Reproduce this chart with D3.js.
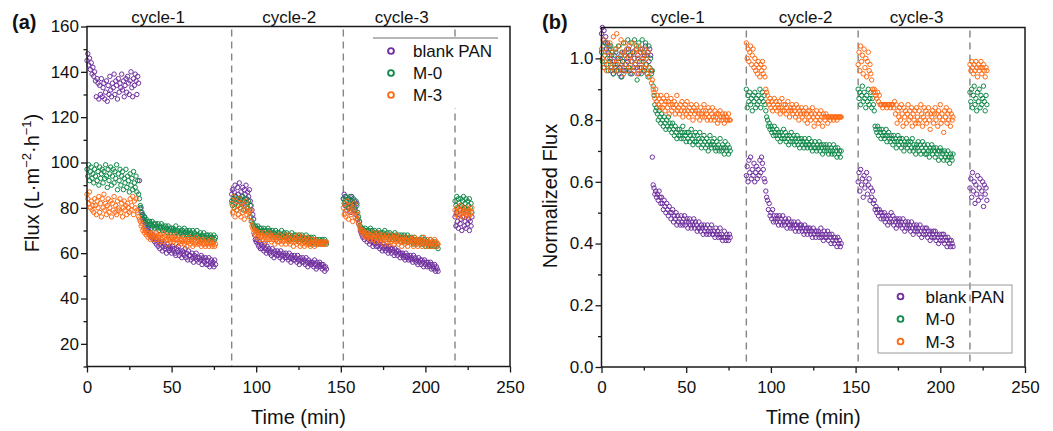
<!DOCTYPE html>
<html>
<head>
<meta charset="utf-8">
<script src="https://cdn.jsdelivr.net/npm/d3@7/dist/d3.min.js"></script>
<style>
  body { margin: 0; background: #fff; }
  svg { display: block; }
</style>
</head>
<body>
<svg id="chart" width="1053" height="431"></svg>
<script>
var seriesNames = ['blank PAN', 'M-0', 'M-3'];
var seriesColors = ['#7030a0', '#11894a', '#ff6a14'];
var cycleLabels = ['cycle-1', 'cycle-2', 'cycle-3'];
var cycleLabelTimeA = [42, 119.5, 186];
var cycleLabelTimeB = [45, 120.5, 186];
var dividerTimes = [85.5, 151.5, 217.5];
var xMajorTicks = [0, 50, 100, 150, 200, 250];
var xMinorTicks = [25, 75, 125, 175, 225];
var fluxMajorTicks = [20, 40, 60, 80, 100, 120, 140, 160];
var fluxMinorTicks = [10, 30, 50, 70, 90, 110, 130, 150];
var normMajorTicks = [0, 0.2, 0.4, 0.6, 0.8, 1.0];
var normMinorTicks = [0.1, 0.3, 0.5, 0.7, 0.9];

// each cycle starts at the dashed line, one reading every 0.5 min
var cycleStart = [0, 85.5, 151.5, 217.5];
var step = 0.5;

// (a) flux, L m-2 h-1
var fluxBlank1 = [145,148,143,146,141,144,139,142,138,140,136,129,137,135,128,134,130,137,129,133,135,128,131,136,127,134,130,138,132,129,135,133,139,130,136,134,128,137,131,135,133,139,132,136,129,134,137,131,138,135,130,136,140,133,129,137,134,139,136,130,138,135,
  92,80,78,77,75,74,76,72,73,71,70,71,68,69,67,68,66,67,65,66,64,66,63,65,62,64,65,61,63,64,62,63,60,64,62,61,63,62,60,63,61,62,60,59,62,61,63,59,61,60,58,61,60,59,62,58,60,57,61,59,59,57,60,58,56,59,58,60,57,58,56,58,57,59,55,58,57,56,58,55,57,55,58,54,56,57,55,56,54,57,55];
var fluxBlank2 = [86,88,84,87,90,85,83,89,86,91,84,87,85,89,82,88,86,90,84,87,85,88,83,81,79,
  77,75,68,66,65,66,64,63,65,62,64,62,63,61,64,62,60,63,61,62,60,61,59,62,60,58,61,60,59,61,59,60,58,61,59,57,60,59,58,60,58,59,57,60,58,56,59,58,57,59,57,58,56,59,57,55,58,57,56,58,56,57,55,58,56,54,57,56,55,56,55,56,54,57,55,53,56,54,55,56,54,55,53,55,54,52,54,53];
var fluxBlank3 = [84,86,81,85,79,83,80,84,82,78,85,81,79,83,80,77,82,75,73,74,
  70,69,68,67,69,66,68,67,65,67,66,64,67,65,66,63,65,64,66,63,65,63,64,62,65,63,61,64,62,63,61,63,62,60,63,61,62,60,62,61,59,62,60,61,59,61,60,58,60,59,60,58,59,57,60,58,59,57,58,59,57,58,56,59,57,58,56,57,55,58,56,57,55,57,56,54,57,55,56,54,56,55,54,56,53,55,54,53,55,52,54,53,52];
var fluxBlank4 = [76,72,78,74,71,77,73,75,70,76,79,72,74,71,77,73,75,70,74,72,76];

var fluxM0_1 = [97,94,99,92,96,98,93,95,91,97,94,99,92,96,90,98,93,95,97,91,96,93,99,94,89,97,92,95,98,90,94,97,91,96,93,99,88,95,92,97,90,94,96,88,93,91,97,89,94,92,87,95,90,93,88,96,91,89,94,87,92,86,
  84,81,80,78,77,75,76,74,75,73,74,72,74,73,71,74,72,73,71,73,72,71,73,70,72,71,73,70,72,71,70,72,71,69,72,70,71,69,71,70,71,69,70,72,69,70,68,71,69,70,69,70,68,71,69,68,70,69,67,70,68,69,67,70,68,69,67,68,70,67,68,67,69,66,68,67,69,67,66,68,67,68,66,67,68,66,67,65,68,66,67];
var fluxM0_2 = [83,81,84,80,85,82,79,84,81,83,80,84,82,85,79,83,81,84,80,82,83,79,81,76,74,
  73,72,71,72,70,71,72,70,71,69,71,70,69,71,70,68,70,69,71,69,70,68,69,70,68,69,67,70,68,69,68,69,67,68,70,67,68,69,67,68,69,67,68,66,68,67,69,67,66,68,67,68,66,67,65,68,66,67,68,66,67,65,66,68,66,65,67,66,64,67,66,65,67,64,66,65,66,64,65,66,65,64,66,65,64,66,65,64];
var fluxM0_3 = [84,82,85,81,83,80,84,82,85,81,83,80,84,82,79,83,81,78,76,74,
  72,71,70,71,69,70,71,69,70,68,70,69,71,68,70,69,68,70,69,67,69,68,70,67,69,68,67,69,68,70,68,67,69,68,66,69,67,68,66,68,67,69,66,68,67,66,68,67,65,68,66,67,68,65,67,66,68,65,67,66,65,67,66,64,67,65,66,64,66,65,66,64,65,67,64,65,66,63,65,64,65,63,64,66,63,65,64,63,65,64,63,64,62];
var fluxM0_4 = [83,81,85,80,84,82,79,84,81,83,85,80,82,84,79,83,81,84,80,82,78];

var fluxM3_1 = [86,84,82,87,80,83,79,81,78,84,81,77,83,80,85,78,82,76,84,80,86,79,82,77,81,84,78,80,83,76,82,79,85,78,81,77,83,80,79,84,78,82,76,80,83,79,81,77,82,80,78,84,79,81,85,77,83,80,84,79,78,76,
  75,74,72,73,70,71,69,70,68,69,67,69,68,66,69,67,68,66,68,67,69,66,68,67,65,68,66,67,69,65,67,68,66,64,67,66,68,65,67,66,65,67,66,68,64,66,67,65,66,64,66,65,67,64,66,65,63,66,65,67,64,66,65,63,66,64,65,67,64,65,66,64,65,63,66,64,65,64,63,66,64,65,63,65,64,66,63,64,65,63,64];
var fluxM3_2 = [82,78,85,80,76,83,79,81,77,84,80,76,82,78,81,75,79,83,77,80,78,76,79,74,72,
  71,69,70,68,70,67,69,68,66,69,67,68,66,69,67,65,68,66,67,69,66,68,65,67,66,68,64,67,66,65,67,65,68,66,64,67,65,66,68,64,66,67,65,68,64,66,65,67,63,66,65,67,64,66,68,65,63,66,64,67,65,63,66,64,67,65,64,66,63,65,64,66,65,63,66,64,65,64,65,64,65,64,65,64,64,65,64,65];
var fluxM3_3 = [80,77,82,76,79,83,75,78,81,77,80,74,79,82,76,78,75,77,73,72,
  71,70,69,70,68,69,68,67,69,68,67,68,66,68,67,69,66,67,68,65,67,69,66,68,65,67,66,68,64,67,66,68,65,67,64,66,68,65,67,66,64,67,65,68,66,64,67,65,66,63,66,65,67,64,66,65,63,67,65,66,64,66,65,63,67,64,66,65,63,66,65,64,66,63,65,67,64,65,63,66,64,65,63,66,64,65,63,64,66,64,65,63,64];
var fluxM3_4 = [79,77,80,78,76,79,81,77,78,80,76,79,78,77,80,78,76,79,77,78,80];

// (b) normalized flux J/J0
var normBlank1 = [1.08,1.10,1.06,1.09,1.05,1.07,1.03,1.05,1.02,1.04,1.00,0.96,1.01,0.99,0.95,0.99,0.97,1.02,0.96,0.98,1.00,0.95,0.97,1.01,0.94,0.99,0.96,1.02,0.98,0.96,1.00,0.99,1.03,0.96,1.01,0.99,0.95,1.02,0.97,1.00,0.98,1.03,0.97,1.01,0.95,0.99,1.02,0.97,1.03,1.00,0.96,1.01,1.04,0.98,0.95,1.02,0.99,1.03,1.01,0.96,0.68,0.59,
  0.58,0.56,0.57,0.55,0.56,0.54,0.57,0.55,0.53,0.55,0.53,0.51,0.54,0.52,0.50,0.53,0.51,0.49,0.52,0.50,0.48,0.50,0.51,0.47,0.49,0.48,0.50,0.46,0.49,0.47,0.48,0.46,0.49,0.47,0.46,0.48,0.49,0.46,0.47,0.48,0.45,0.47,0.48,0.46,0.45,0.47,0.46,0.48,0.45,0.47,0.46,0.44,0.45,0.47,0.45,0.44,0.46,0.45,0.43,0.46,0.44,0.45,0.43,0.46,0.44,0.43,0.45,0.44,0.46,0.43,0.43,0.44,0.42,0.45,0.43,0.44,0.42,0.43,0.45,0.42,0.43,0.41,0.42,0.44,0.42,0.41,0.43,0.42,0.41,0.43,0.42];
var normBlank2 = [0.62,0.65,0.60,0.67,0.63,0.68,0.61,0.64,0.62,0.66,0.60,0.63,0.65,0.61,0.64,0.62,0.67,0.63,0.68,0.66,0.64,0.61,0.60,0.57,0.55,
  0.54,0.51,0.53,0.49,0.50,0.48,0.51,0.47,0.49,0.48,0.47,0.49,0.48,0.46,0.49,0.47,0.48,0.46,0.49,0.47,0.46,0.48,0.47,0.45,0.47,0.48,0.46,0.45,0.47,0.46,0.45,0.47,0.46,0.44,0.46,0.45,0.47,0.44,0.46,0.45,0.46,0.44,0.45,0.43,0.46,0.44,0.45,0.43,0.45,0.44,0.45,0.43,0.44,0.42,0.45,0.43,0.44,0.42,0.44,0.43,0.44,0.42,0.43,0.45,0.42,0.43,0.41,0.44,0.42,0.43,0.42,0.44,0.41,0.43,0.42,0.40,0.43,0.41,0.42,0.40,0.42,0.41,0.39,0.42,0.40,0.41,0.39,0.40];
var normBlank3 = [0.60,0.63,0.57,0.64,0.59,0.61,0.55,0.62,0.58,0.60,0.63,0.56,0.59,0.61,0.54,0.58,0.55,0.57,0.53,0.54,
  0.51,0.52,0.50,0.51,0.49,0.51,0.50,0.48,0.50,0.49,0.48,0.50,0.47,0.49,0.48,0.46,0.49,0.47,0.48,0.50,0.47,0.49,0.46,0.48,0.47,0.45,0.48,0.46,0.47,0.48,0.46,0.47,0.45,0.48,0.46,0.44,0.47,0.45,0.46,0.47,0.45,0.46,0.44,0.47,0.45,0.43,0.46,0.44,0.45,0.46,0.44,0.45,0.43,0.46,0.44,0.42,0.45,0.43,0.44,0.45,0.43,0.45,0.42,0.44,0.43,0.41,0.44,0.42,0.43,0.44,0.42,0.44,0.41,0.43,0.42,0.40,0.43,0.41,0.42,0.43,0.41,0.43,0.40,0.42,0.41,0.39,0.42,0.40,0.41,0.39,0.41,0.40,0.39];
var normBlank4 = [0.58,0.61,0.55,0.63,0.57,0.60,0.53,0.59,0.56,0.62,0.54,0.58,0.61,0.55,0.57,0.60,0.52,0.59,0.56,0.58,0.54];

var normM0_1 = [1.02,0.99,1.04,0.97,1.01,1.05,0.98,1.00,0.96,1.03,0.99,1.04,0.97,1.02,0.95,1.01,0.98,1.03,0.96,1.00,1.04,0.97,1.00,0.94,1.02,0.99,1.05,0.96,1.01,0.98,1.03,1.06,0.97,1.01,0.95,1.05,0.99,1.02,0.96,1.06,0.98,1.04,0.93,1.00,1.05,0.97,1.03,0.95,1.06,0.99,1.02,0.96,1.05,0.98,1.01,0.94,1.04,0.97,1.00,0.95,0.96,0.91,
  0.88,0.85,0.83,0.84,0.82,0.80,0.83,0.81,0.79,0.82,0.80,0.78,0.81,0.79,0.77,0.80,0.78,0.81,0.77,0.79,0.78,0.76,0.79,0.77,0.75,0.78,0.76,0.74,0.77,0.75,0.77,0.75,0.74,0.76,0.78,0.74,0.76,0.75,0.73,0.76,0.74,0.76,0.73,0.75,0.77,0.74,0.72,0.75,0.73,0.76,0.73,0.75,0.72,0.74,0.76,0.73,0.71,0.74,0.72,0.75,0.73,0.71,0.74,0.72,0.70,0.73,0.75,0.72,0.71,0.73,0.72,0.74,0.71,0.70,0.73,0.71,0.72,0.70,0.74,0.71,0.70,0.72,0.71,0.69,0.73,0.71,0.70,0.72,0.69,0.71,0.70];
var normM0_2 = [0.90,0.84,0.88,0.86,0.89,0.85,0.87,0.83,0.88,0.86,0.89,0.84,0.87,0.85,0.88,0.86,0.90,0.84,0.87,0.89,0.86,0.88,0.85,0.83,0.81,
  0.80,0.78,0.79,0.77,0.78,0.76,0.77,0.75,0.78,0.76,0.75,0.77,0.74,0.76,0.75,0.73,0.76,0.74,0.75,0.77,0.74,0.76,0.73,0.75,0.74,0.72,0.75,0.73,0.76,0.74,0.73,0.75,0.72,0.74,0.73,0.75,0.72,0.74,0.71,0.73,0.74,0.72,0.73,0.71,0.74,0.72,0.73,0.71,0.72,0.74,0.72,0.71,0.73,0.70,0.72,0.71,0.73,0.71,0.70,0.72,0.71,0.73,0.70,0.72,0.71,0.69,0.72,0.70,0.71,0.72,0.70,0.71,0.69,0.72,0.70,0.71,0.69,0.70,0.72,0.69,0.71,0.70,0.68,0.71,0.69,0.70,0.68,0.70];
var normM0_3 = [0.90,0.87,0.89,0.85,0.88,0.91,0.86,0.89,0.87,0.84,0.88,0.86,0.90,0.85,0.87,0.89,0.84,0.87,0.85,0.83,
  0.78,0.77,0.76,0.78,0.75,0.77,0.76,0.74,0.77,0.75,0.76,0.74,0.75,0.77,0.73,0.75,0.76,0.74,0.73,0.75,0.74,0.72,0.75,0.73,0.74,0.71,0.73,0.75,0.72,0.74,0.73,0.71,0.74,0.72,0.70,0.73,0.72,0.74,0.71,0.73,0.72,0.70,0.73,0.71,0.74,0.70,0.72,0.71,0.69,0.72,0.71,0.73,0.70,0.72,0.69,0.71,0.73,0.70,0.72,0.69,0.71,0.69,0.72,0.70,0.68,0.71,0.70,0.72,0.69,0.71,0.70,0.68,0.71,0.69,0.70,0.67,0.70,0.71,0.68,0.70,0.69,0.67,0.70,0.68,0.69,0.67,0.70,0.68,0.66,0.69,0.68,0.67,0.69];
var normM0_4 = [0.89,0.86,0.90,0.84,0.88,0.91,0.85,0.87,0.83,0.89,0.86,0.90,0.84,0.88,0.85,0.87,0.91,0.86,0.83,0.88,0.85];

var normM3_1 = [1.03,1.00,0.97,1.06,0.99,1.02,0.96,1.04,0.98,1.01,1.05,0.97,1.02,0.99,1.07,0.96,1.03,0.98,1.08,1.00,0.96,1.04,0.99,1.06,0.97,1.02,0.95,1.01,1.05,0.98,1.03,0.96,1.00,1.04,0.97,1.01,0.99,1.05,0.96,1.02,0.98,1.03,0.95,1.00,1.04,0.97,1.02,0.99,0.96,1.01,0.97,1.03,0.98,1.00,0.95,1.02,0.97,0.94,0.96,0.92,0.93,0.90,
  0.89,0.87,0.90,0.86,0.88,0.85,0.87,0.84,0.88,0.86,0.84,0.87,0.85,0.83,0.86,0.88,0.84,0.86,0.82,0.85,0.87,0.83,0.85,0.84,0.86,0.82,0.85,0.88,0.83,0.84,0.82,0.85,0.83,0.86,0.81,0.84,0.83,0.85,0.82,0.86,0.83,0.81,0.84,0.82,0.85,0.83,0.80,0.84,0.82,0.83,0.85,0.81,0.83,0.82,0.80,0.84,0.82,0.81,0.83,0.85,0.81,0.83,0.82,0.80,0.84,0.81,0.83,0.80,0.82,0.84,0.81,0.80,0.83,0.81,0.82,0.79,0.82,0.80,0.83,0.81,0.80,0.82,0.81,0.79,0.82,0.80,0.81,0.80,0.82,0.80,0.80];
var normM3_2 = [1.05,1.00,1.03,0.99,1.02,1.04,0.98,1.01,1.03,0.97,1.00,0.96,0.98,0.95,0.99,0.97,0.94,0.98,0.96,0.99,0.95,0.97,0.94,0.90,0.89,
  0.88,0.86,0.85,0.87,0.84,0.86,0.83,0.85,0.87,0.84,0.86,0.83,0.85,0.84,0.86,0.82,0.84,0.87,0.83,0.85,0.83,0.85,0.82,0.84,0.86,0.83,0.81,0.84,0.83,0.85,0.82,0.84,0.83,0.81,0.85,0.82,0.84,0.80,0.83,0.82,0.84,0.81,0.83,0.82,0.80,0.84,0.82,0.79,0.83,0.81,0.83,0.80,0.82,0.84,0.81,0.78,0.82,0.80,0.83,0.81,0.79,0.82,0.80,0.83,0.81,0.78,0.82,0.81,0.80,0.82,0.81,0.79,0.81,0.81,0.80,0.81,0.81,0.81,0.80,0.81,0.81,0.81,0.80,0.81,0.81,0.81,0.81,0.81];
var normM3_3 = [0.98,1.02,0.96,1.04,0.99,1.01,0.95,1.03,0.97,1.00,0.94,0.99,1.02,0.96,0.98,0.95,0.93,0.90,0.89,0.90,
  0.89,0.88,0.87,0.89,0.86,0.88,0.85,0.85,0.85,0.84,0.85,0.85,0.85,0.85,0.84,0.85,0.85,0.85,0.84,0.85,0.85,0.85,0.84,0.86,0.82,0.85,0.79,0.83,0.81,0.84,0.80,0.85,0.82,0.78,0.84,0.81,0.83,0.79,0.82,0.85,0.80,0.83,0.81,0.84,0.78,0.82,0.80,0.83,0.79,0.84,0.81,0.79,0.83,0.80,0.85,0.82,0.78,0.81,0.84,0.80,0.83,0.79,0.82,0.84,0.80,0.77,0.82,0.81,0.83,0.79,0.82,0.84,0.80,0.82,0.78,0.83,0.81,0.85,0.79,0.82,0.80,0.76,0.83,0.81,0.84,0.79,0.82,0.80,0.83,0.78,0.82,0.80,0.81];
var normM3_4 = [0.98,0.96,0.99,0.97,0.95,0.98,0.96,0.99,0.97,0.94,0.98,0.96,0.97,0.99,0.95,0.97,0.98,0.96,0.94,0.97,0.96];

var FONT = '"Liberation Sans", Arial, sans-serif';
var svg = d3.select('#chart');

function toPoints(cycles) {
  var pts = [];
  cycles.forEach(function(arr, c) {
    arr.forEach(function(v, i) {
      pts.push({ t: cycleStart[c] + i * step, v: v });
    });
  });
  return pts;
}

function styleAxis(sel) {
  sel.select('.domain').remove();
  sel.selectAll('line').attr('stroke', '#1a1a1a').attr('stroke-width', 1.3);
  sel.selectAll('text')
    .attr('fill', '#111')
    .style('font-family', FONT)
    .style('font-size', '17px');
}

function drawPanel(p) {
  var x = d3.scaleLinear().domain([0, 250]).range([p.left, p.right]),
    y = d3.scaleLinear().domain(p.yDomain).range([p.bottom, p.top]),
    g = svg.append('g');

  // dashed cycle dividers
  g.selectAll('line.divider')
    .data(dividerTimes)
    .enter()
    .append('line')
    .attr('class', 'divider')
    .attr('x1', function(d) { return x(d); })
    .attr('x2', function(d) { return x(d); })
    .attr('y1', p.top + 3)
    .attr('y2', p.bottom)
    .attr('stroke', '#858585')
    .attr('stroke-width', 1.4)
    .attr('stroke-dasharray', '7,5');

  // scatter, drawn blank PAN first so M-3 ends on top
  p.series.forEach(function(cycles, k) {
    g.append('g')
      .selectAll('circle')
      .data(toPoints(cycles))
      .enter()
      .append('circle')
      .attr('cx', function(d) { return x(d.t); })
      .attr('cy', function(d) { return y(d.v); })
      .attr('r', 2.2)
      .attr('fill', 'none')
      .attr('stroke', seriesColors[k])
      .attr('stroke-width', 1);
  });

  // axes
  var xa = g.append('g').attr('transform', 'translate(0,' + p.bottom + ')');
  xa.call(d3.axisBottom(x).tickValues(xMajorTicks).tickSize(6).tickPadding(8).tickFormat(d3.format('d')));
  styleAxis(xa);
  var xm = g.append('g').attr('transform', 'translate(0,' + p.bottom + ')');
  xm.call(d3.axisBottom(x).tickValues(xMinorTicks).tickSize(3.5).tickFormat(''));
  styleAxis(xm);

  var ya = g.append('g').attr('transform', 'translate(' + p.left + ',0)');
  ya.call(d3.axisLeft(y).tickValues(p.yMajor).tickSize(6).tickPadding(2).tickFormat(p.yFormat));
  styleAxis(ya);
  var ym = g.append('g').attr('transform', 'translate(' + p.left + ',0)');
  ym.call(d3.axisLeft(y).tickValues(p.yMinor).tickSize(3.5).tickFormat(''));
  styleAxis(ym);

  // frame
  g.append('rect')
    .attr('x', p.left)
    .attr('y', p.top)
    .attr('width', p.right - p.left)
    .attr('height', p.bottom - p.top)
    .attr('fill', 'none')
    .attr('stroke', '#1a1a1a')
    .attr('stroke-width', 1.5);

  // cycle labels
  g.selectAll('text.cycle')
    .data(cycleLabels)
    .enter()
    .append('text')
    .attr('class', 'cycle')
    .attr('x', function(d, i) { return x(p.cycleT[i]); })
    .attr('y', 23)
    .attr('text-anchor', 'middle')
    .style('font-family', FONT)
    .style('font-size', '17px')
    .attr('fill', '#111')
    .text(function(d) { return d; });

  // panel tag
  g.append('text')
    .attr('x', p.tagX)
    .attr('y', 29)
    .style('font-family', FONT)
    .style('font-size', '20px')
    .style('font-weight', 'bold')
    .attr('fill', '#111')
    .text(p.tag);

  // x title
  g.append('text')
    .attr('x', (p.left + p.right) / 2)
    .attr('y', 424)
    .attr('text-anchor', 'middle')
    .style('font-family', FONT)
    .style('font-size', '20px')
    .attr('fill', '#111')
    .text('Time (min)');

  // legend
  var lg = g.append('g');
  lg.append('rect')
    .attr('x', p.legend.x)
    .attr('y', p.legend.y)
    .attr('width', p.legend.w)
    .attr('height', p.legend.h)
    .attr('fill', p.legend.fill)
    .attr('stroke', p.legend.frame ? '#9a9a9a' : 'none')
    .attr('stroke-width', 1);
  if (!p.legend.frame) {
    lg.append('line')
      .attr('x1', p.legend.x).attr('x2', p.legend.x + p.legend.w)
      .attr('y1', p.legend.y).attr('y2', p.legend.y)
      .attr('stroke', '#6e6e6e')
      .attr('stroke-width', 1.2);
  }
  seriesNames.forEach(function(name, k) {
    var cy = p.legend.y + p.legend.first + k * p.legend.gap;
    lg.append('circle')
      .attr('cx', p.legend.x + p.legend.mark)
      .attr('cy', cy)
      .attr('r', 2.9)
      .attr('fill', 'none')
      .attr('stroke', seriesColors[k])
      .attr('stroke-width', 1.9);
    lg.append('text')
      .attr('x', p.legend.x + p.legend.text)
      .attr('y', cy + 6)
      .style('font-family', FONT)
      .style('font-size', '17px')
      .attr('fill', '#111')
      .text(name);
  });

  return { x: x, y: y };
}

drawPanel({
  left: 87, right: 510, top: 26.5, bottom: 366.5,
  yDomain: [10, 160], yMajor: fluxMajorTicks, yMinor: fluxMinorTicks, yFormat: d3.format('d'),
  series: [
    [fluxBlank1, fluxBlank2, fluxBlank3, fluxBlank4],
    [fluxM0_1, fluxM0_2, fluxM0_3, fluxM0_4],
    [fluxM3_1, fluxM3_2, fluxM3_3, fluxM3_4]
  ],
  cycleT: cycleLabelTimeA,
  tag: '(a)', tagX: 12,
  legend: { x: 373, y: 38, w: 125, h: 70, fill: '#fff', frame: false, first: 13, gap: 22, mark: 18, text: 40 }
});

drawPanel({
  left: 601.5, right: 1025, top: 27.5, bottom: 367,
  yDomain: [0, 1.1], yMajor: normMajorTicks, yMinor: normMinorTicks, yFormat: d3.format('.1f'),
  series: [
    [normBlank1, normBlank2, normBlank3, normBlank4],
    [normM0_1, normM0_2, normM0_3, normM0_4],
    [normM3_1, normM3_2, normM3_3, normM3_4]
  ],
  cycleT: cycleLabelTimeB,
  tag: '(b)', tagX: 542,
  legend: { x: 878, y: 285, w: 134, h: 68, fill: 'none', frame: true, first: 11.5, gap: 22.5, mark: 22.5, text: 47.5 }
});

// y titles
var ta = svg.append('text')
  .attr('transform', 'translate(39,183) rotate(-90)')
  .attr('text-anchor', 'middle')
  .style('font-family', FONT)
  .style('font-size', '20px')
  .attr('fill', '#111');
ta.append('tspan').text('Flux (L·m');
ta.append('tspan').attr('dy', -8).style('font-size', '13px').text('−2');
ta.append('tspan').attr('dy', 8).text('·h');
ta.append('tspan').attr('dy', -8).style('font-size', '13px').text('−1');
ta.append('tspan').attr('dy', 8).text(')');

svg.append('text')
  .attr('transform', 'translate(557,196) rotate(-90)')
  .attr('text-anchor', 'middle')
  .style('font-family', FONT)
  .style('font-size', '20px')
  .attr('fill', '#111')
  .text('Normalized Flux');
</script>
</body>
</html>
